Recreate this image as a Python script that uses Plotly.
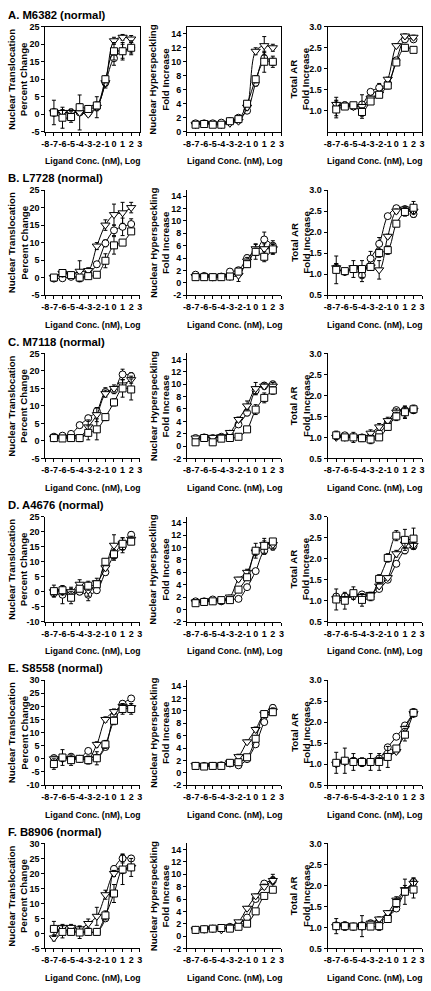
import plotly.graph_objects as go

# ---------------- data ----------------
X_LOG = [-7, -6, -5, -4, -3, -2, -1, 0, 1, 2]
ROW_TITLES = ["A. M6382 (normal)", "B. L7728 (normal)", "C. M7118 (normal)",
              "D. A4676 (normal)", "E. S8558 (normal)", "F. B8906 (normal)"]
Y_TITLES = ["Nuclear Translocation<br>Percent Change",
            "Nuclear Hyperspeckling<br>Fold Increase",
            "Total AR<br>Fold Increase"]
X_TITLE = "Ligand Conc. (nM), Log"
X_TICKS = [-8, -7, -6, -5, -4, -3, -2, -1, 0, 1, 2, 3]

# Row A
A_NT_circ = [0.5, 0.3, 0.5, 0.5, 0.5, 2.0, 9.0, 16.0, 18.0, 19.0]
A_NT_tri = [0.5, 0.5, 0.5, 0.5, 0.0, 2.0, 9.0, 21.0, 22.0, 21.5]
A_NT_sq = [0.5, -1.0, -0.8, 2.0, 1.5, 2.5, 10.0, 18.0, 18.0, 19.0]
A_NT_circ_e = [1.0, 1.0, 1.0, 5.0, 1.0, 1.0, 1.0, 2.0, 2.0, 1.5]
A_NT_tri_e = [0.5, 0.5, 0.5, 0.5, 0.5, 3.0, 1.5, 1.0, 0.8, 1.0]
A_NT_sq_e = [3.5, 3.0, 1.5, 1.0, 1.0, 1.0, 1.0, 2.5, 2.5, 2.0]

A_NH_circ = [1.2, 1.2, 1.2, 1.3, 1.5, 2.0, 3.0, 7.0, 10.5, 10.0]
A_NH_tri = [1.0, 1.2, 1.1, 1.0, 1.2, 1.5, 3.5, 11.5, 12.3, 12.0]
A_NH_sq = [1.0, 1.1, 1.0, 1.0, 1.5, 1.8, 4.0, 7.5, 10.0, 10.0]
A_NH_circ_e = [0.2, 0.2, 0.2, 0.2, 0.2, 0.3, 0.4, 0.5, 0.8, 0.5]
A_NH_tri_e = [0.2, 0.2, 0.2, 0.2, 0.2, 0.3, 0.4, 0.5, 1.3, 0.5]
A_NH_sq_e = [0.2, 0.2, 0.2, 0.2, 0.2, 0.3, 0.4, 0.5, 1.5, 0.8]

A_AR_circ = [1.10, 1.13, 1.10, 1.15, 1.45, 1.55, 1.65, 2.20, 2.70, 2.70]
A_AR_tri = [1.15, 1.12, 1.10, 1.10, 1.30, 1.40, 1.75, 2.55, 2.78, 2.75]
A_AR_sq = [1.03, 1.10, 1.13, 0.97, 1.22, 1.38, 1.60, 2.15, 2.50, 2.45]
A_AR_circ_e = [0.22, 0.08, 0.05, 0.05, 0.05, 0.10, 0.05, 0.05, 0.05, 0.05]
A_AR_tri_e = [0.10, 0.05, 0.05, 0.28, 0.05, 0.05, 0.05, 0.05, 0.05, 0.05]
A_AR_sq_e = [0.20, 0.05, 0.05, 0.10, 0.05, 0.05, 0.08, 0.05, 0.08, 0.05]

# Row B
B_NT_circ = [-0.3, -0.2, 0.2, -0.2, 1.0, 3.8, 9.8, 13.5, 14.5, 15.3]
B_NT_tri = [0.0, 1.2, 0.8, 1.8, 2.0, 9.0, 15.0, 18.0, 18.5, 20.0]
B_NT_sq = [0.0, 1.3, 0.7, 0.0, 0.4, 0.8, 4.8, 9.2, 10.0, 13.2]
B_NT_circ_e = [0.5, 0.5, 0.5, 0.5, 0.5, 0.8, 1.0, 1.5, 2.5, 1.5]
B_NT_tri_e = [0.5, 1.0, 0.8, 3.0, 0.8, 1.0, 1.5, 3.0, 3.0, 1.5]
B_NT_sq_e = [0.5, 1.0, 0.8, 0.5, 0.5, 0.5, 2.0, 2.5, 0.8, 0.8]

B_NH_circ = [1.3, 1.1, 0.9, 1.0, 1.8, 2.0, 4.0, 5.0, 7.0, 6.0]
B_NH_tri = [1.0, 1.0, 0.9, 1.0, 1.0, 1.2, 3.5, 5.5, 5.5, 5.5]
B_NH_sq = [0.9, 0.9, 0.9, 0.9, 1.0, 1.8, 3.0, 5.0, 4.2, 5.4]
B_NH_circ_e = [0.3, 0.3, 0.2, 0.3, 0.4, 0.5, 0.5, 1.2, 1.2, 0.8]
B_NH_tri_e = [0.3, 0.3, 0.2, 0.3, 0.4, 1.0, 0.6, 0.8, 0.8, 0.8]
B_NH_sq_e = [0.3, 0.3, 0.2, 0.3, 0.3, 0.5, 0.5, 0.6, 0.8, 0.8]

B_AR_circ = [1.15, 1.05, 1.12, 0.97, 1.37, 1.72, 2.38, 2.57, 2.55, 2.43]
B_AR_tri = [1.15, 1.05, 1.15, 1.12, 1.17, 1.10, 1.90, 2.50, 2.55, 2.50]
B_AR_sq = [1.10, 1.07, 1.12, 1.12, 1.17, 1.50, 1.57, 2.20, 2.48, 2.58]
B_AR_circ_e = [0.10, 0.05, 0.05, 0.15, 0.17, 0.15, 0.05, 0.05, 0.05, 0.08]
B_AR_tri_e = [0.10, 0.05, 0.05, 0.05, 0.05, 0.22, 0.05, 0.05, 0.05, 0.05]
B_AR_sq_e = [0.33, 0.05, 0.20, 0.20, 0.05, 0.10, 0.10, 0.05, 0.10, 0.15]

# Row C
C_NT_circ = [1.2, 1.5, 2.0, 4.5, 6.5, 8.5, 14.0, 14.5, 19.0, 18.5]
C_NT_tri = [0.8, 1.0, 1.0, 1.0, 4.0, 7.5, 13.5, 15.0, 16.0, 17.5]
C_NT_sq = [0.8, 0.7, 0.8, 0.8, 2.3, 3.3, 6.8, 11.0, 15.0, 14.7]
C_NT_circ_e = [0.5, 0.5, 0.5, 0.8, 0.8, 1.0, 1.2, 1.0, 1.5, 1.0]
C_NT_tri_e = [0.5, 0.5, 0.5, 0.5, 2.0, 2.0, 1.0, 1.0, 1.5, 1.0]
C_NT_sq_e = [0.5, 0.5, 0.5, 1.0, 2.0, 3.0, 1.0, 1.0, 2.5, 3.0]

C_NH_circ = [1.3, 1.4, 1.3, 1.5, 2.0, 3.5, 5.4, 9.0, 9.8, 10.0]
C_NH_tri = [1.3, 1.3, 1.4, 1.5, 2.2, 4.3, 6.5, 9.3, 9.7, 9.7]
C_NH_sq = [0.6, 1.3, 0.6, 1.2, 1.3, 1.5, 2.7, 5.9, 7.8, 9.0]
C_NH_circ_e = [0.2, 0.2, 0.2, 0.3, 0.3, 0.4, 0.5, 0.6, 0.5, 0.5]
C_NH_tri_e = [0.2, 0.2, 0.2, 0.3, 0.3, 0.4, 0.8, 1.0, 0.5, 0.6]
C_NH_sq_e = [0.3, 0.3, 0.4, 0.3, 0.3, 0.3, 0.3, 0.8, 0.8, 0.6]

C_AR_circ = [1.05, 1.05, 1.00, 1.00, 1.00, 1.10, 1.35, 1.65, 1.65, 1.65]
C_AR_tri = [1.00, 1.00, 1.00, 1.00, 1.10, 1.25, 1.40, 1.60, 1.60, 1.65]
C_AR_sq = [1.05, 1.00, 1.00, 0.98, 0.95, 1.00, 1.25, 1.50, 1.60, 1.67]
C_AR_circ_e = [0.05, 0.05, 0.05, 0.05, 0.05, 0.05, 0.05, 0.05, 0.08, 0.05]
C_AR_tri_e = [0.05, 0.05, 0.05, 0.05, 0.08, 0.08, 0.08, 0.08, 0.12, 0.05]
C_AR_sq_e = [0.10, 0.05, 0.12, 0.08, 0.10, 0.05, 0.08, 0.10, 0.15, 0.10]

# Row D
D_NT_circ = [-0.5, -1.0, -0.5, 0.0, -1.0, 0.5, 6.5, 12.0, 15.0, 19.0]
D_NT_tri = [0.0, 0.0, 0.0, 2.5, 0.5, 3.0, 8.0, 15.5, 16.0, 17.5]
D_NT_sq = [0.2, 0.5, -2.0, 1.0, 2.0, 2.5, 10.0, 12.5, 16.0, 16.7]
D_NT_circ_e = [1.0, 3.0, 2.0, 1.0, 2.0, 1.0, 1.0, 1.5, 2.0, 1.0]
D_NT_tri_e = [1.0, 1.0, 1.0, 1.5, 2.0, 1.5, 1.0, 3.5, 2.0, 1.0]
D_NT_sq_e = [2.0, 1.5, 2.0, 1.0, 1.5, 1.0, 1.0, 1.5, 2.0, 1.0]

D_NH_circ = [1.3, 1.3, 1.6, 1.3, 1.7, 1.7, 3.6, 6.2, 9.5, 10.2]
D_NH_tri = [1.2, 1.2, 1.4, 1.4, 2.0, 4.9, 6.0, 9.3, 10.5, 10.5]
D_NH_sq = [1.0, 1.2, 1.3, 1.5, 1.5, 3.2, 5.2, 9.5, 10.3, 11.0]
D_NH_circ_e = [0.2, 0.2, 0.2, 0.2, 0.2, 0.2, 0.3, 0.4, 0.6, 0.6]
D_NH_tri_e = [0.2, 0.2, 0.2, 0.2, 0.3, 0.3, 0.5, 0.6, 0.6, 0.6]
D_NH_sq_e = [0.2, 0.2, 0.2, 0.2, 0.2, 0.3, 0.5, 1.2, 1.2, 0.4]

D_AR_circ = [1.10, 1.10, 1.15, 1.15, 1.10, 1.28, 1.50, 1.88, 2.20, 2.30]
D_AR_tri = [1.05, 1.05, 1.10, 1.10, 1.15, 1.35, 1.55, 2.12, 2.35, 2.32]
D_AR_sq = [1.03, 1.00, 1.18, 1.02, 1.10, 1.52, 2.02, 2.55, 2.45, 2.48]
D_AR_circ_e = [0.05, 0.05, 0.05, 0.05, 0.05, 0.05, 0.05, 0.05, 0.08, 0.08]
D_AR_tri_e = [0.05, 0.05, 0.05, 0.05, 0.05, 0.05, 0.05, 0.08, 0.10, 0.08]
D_AR_sq_e = [0.25, 0.20, 0.15, 0.15, 0.10, 0.10, 0.10, 0.12, 0.25, 0.25]

# Row E
E_NT_circ = [0.3, 0.5, 0.8, 0.0, 3.0, 0.5, 4.5, 16.5, 21.0, 23.0]
E_NT_tri = [0.0, 0.0, 0.0, 0.0, 0.0, 5.5, 15.0, 18.0, 20.0, 19.5]
E_NT_sq = [-2.0, 0.5, -0.5, 0.0, -0.5, 0.2, 5.5, 14.5, 19.0, 19.0]
E_NT_circ_e = [1.0, 1.0, 1.0, 1.0, 1.0, 1.0, 1.0, 1.5, 1.0, 1.0]
E_NT_tri_e = [1.0, 1.0, 1.0, 1.0, 1.0, 1.0, 1.0, 1.0, 1.0, 1.5]
E_NT_sq_e = [2.0, 3.0, 2.0, 1.0, 1.5, 2.5, 1.5, 1.5, 2.0, 2.0]

E_NH_circ = [1.1, 1.1, 1.1, 1.2, 1.5, 1.2, 2.2, 4.6, 8.2, 10.5]
E_NH_tri = [1.2, 1.1, 1.2, 1.2, 1.6, 2.6, 5.0, 7.0, 9.5, 10.0]
E_NH_sq = [1.1, 1.0, 1.1, 1.1, 1.6, 1.7, 2.5, 5.5, 9.5, 9.8]
E_NH_circ_e = [0.2, 0.2, 0.2, 0.2, 0.2, 0.2, 0.3, 0.3, 0.4, 0.5]
E_NH_tri_e = [0.2, 0.2, 0.2, 0.2, 0.2, 0.4, 0.3, 0.4, 0.4, 0.5]
E_NH_sq_e = [0.2, 0.2, 0.2, 0.2, 0.2, 0.3, 0.4, 0.5, 0.4, 0.5]

E_AR_circ = [1.02, 1.08, 1.08, 1.02, 1.04, 1.13, 1.40, 1.65, 1.92, 2.22]
E_AR_tri = [1.00, 1.05, 1.05, 1.05, 1.05, 1.10, 1.20, 1.30, 1.85, 2.20]
E_AR_sq = [1.03, 1.08, 1.05, 1.05, 1.05, 1.05, 1.17, 1.37, 1.70, 2.22]
E_AR_circ_e = [0.05, 0.05, 0.05, 0.05, 0.05, 0.05, 0.05, 0.05, 0.05, 0.05]
E_AR_tri_e = [0.05, 0.05, 0.05, 0.05, 0.05, 0.05, 0.05, 0.05, 0.05, 0.05]
E_AR_sq_e = [0.25, 0.30, 0.20, 0.10, 0.20, 0.20, 0.25, 0.05, 0.15, 0.10]

# Row F
F_NT_circ = [1.5, 1.0, 1.0, 0.5, 0.5, 0.5, 5.0, 21.5, 25.0, 25.0]
F_NT_tri = [-1.5, 2.0, 2.0, 1.5, 3.3, 5.7, 12.9, 20.0, 21.0, 22.0]
F_NT_sq = [1.5, 0.5, 0.5, 0.3, 0.5, 0.5, 6.0, 13.3, 21.3, 22.0]
F_NT_circ_e = [1.0, 1.0, 1.0, 1.0, 1.0, 1.0, 1.0, 1.0, 1.5, 1.0]
F_NT_tri_e = [1.0, 1.0, 1.0, 1.0, 1.5, 3.0, 1.5, 1.0, 1.0, 1.0]
F_NT_sq_e = [2.5, 2.0, 1.0, 2.0, 1.0, 1.0, 1.5, 3.0, 5.0, 3.0]

F_NH_circ = [1.0, 1.1, 1.2, 1.3, 1.5, 2.0, 3.0, 6.0, 8.5, 9.0]
F_NH_tri = [1.0, 1.1, 1.2, 1.0, 1.5, 2.3, 4.5, 6.5, 8.0, 9.0]
F_NH_sq = [1.0, 1.1, 1.2, 1.3, 1.2, 1.5, 2.0, 4.0, 6.5, 7.5]
F_NH_circ_e = [0.1, 0.1, 0.1, 0.1, 0.2, 0.2, 0.3, 0.3, 0.4, 1.0]
F_NH_tri_e = [0.1, 0.1, 0.1, 0.1, 0.2, 0.2, 0.3, 0.3, 0.4, 0.6]
F_NH_sq_e = [0.1, 0.1, 0.1, 0.1, 0.2, 0.2, 0.2, 0.3, 0.3, 0.4]

F_AR_circ = [1.05, 1.05, 1.02, 1.05, 1.10, 1.15, 1.25, 1.45, 1.85, 2.08]
F_AR_tri = [1.02, 1.05, 1.03, 1.02, 1.10, 1.20, 1.35, 1.65, 1.90, 2.05]
F_AR_sq = [1.03, 1.03, 1.02, 1.03, 1.02, 1.03, 1.20, 1.58, 1.85, 1.90]
F_AR_circ_e = [0.05, 0.05, 0.05, 0.05, 0.05, 0.05, 0.05, 0.05, 0.08, 0.10]
F_AR_tri_e = [0.05, 0.05, 0.05, 0.05, 0.05, 0.05, 0.05, 0.08, 0.10, 0.12]
F_AR_sq_e = [0.18, 0.10, 0.08, 0.25, 0.05, 0.10, 0.05, 0.10, 0.30, 0.20]

NT_RANGES = [[-5, 25], [-5, 25], [-5, 25], [-10, 25], [-10, 30], [-5, 30]]
NH_RANGES = [[0, 15], [-2, 15], [-2, 15], [-2, 15], [-2, 15], [-2, 15]]
AR_RANGE = [0.5, 3.0]

# ---------------- assemble ----------------
g = globals()
ROWS = ["A", "B", "C", "D", "E", "F"]
METRICS = ["NT", "NH", "AR"]
SYMBOLS = [("circ", "circle", 7), ("tri", "triangle-down", 8), ("sq", "square", 7)]

W, H = 431, 991
COLS_PX = [(42, 138), (186, 282), (329, 425)]
ROW_TOP_PX = [22, 187, 352, 517, 682, 847]
ROW_H_PX = 106

FONT = "Liberation Sans, Arial, sans-serif"

fig = go.Figure()
annotations = []
layout = {}

for r, row in enumerate(ROWS):
    top = ROW_TOP_PX[r]
    bot = top + ROW_H_PX
    ydom = [1 - bot / H, 1 - top / H]
    boxed = (r == 0)
    annotations.append(dict(text=ROW_TITLES[r], x=2 / W, y=1 - (top - 12) / H,
                            xref="paper", yref="paper", xanchor="left", yanchor="middle",
                            showarrow=False,
                            font=dict(family=FONT, size=11.3, color="black", weight="bold")))
    for c, met in enumerate(METRICS):
        n = r * 3 + c + 1
        xa = "x" if n == 1 else f"x{n}"
        ya = "y" if n == 1 else f"y{n}"
        xdom = [COLS_PX[c][0] / W, COLS_PX[c][1] / W]
        for key, sym, size in SYMBOLS:
            yv = g[f"{row}_{met}_{key}"]
            ye = g[f"{row}_{met}_{key}_e"]
            fig.add_trace(go.Scatter(
                x=X_LOG, y=yv, xaxis=xa, yaxis=ya, mode="lines+markers",
                line=dict(color="black", width=1, shape="spline", smoothing=1.0),
                marker=dict(symbol=sym, size=size, color="white",
                            line=dict(color="black", width=1)),
                error_y=dict(type="data", array=ye, color="black", thickness=1, width=2),
                showlegend=False, hoverinfo="skip"))
        tickfont = dict(family=FONT, size=9, color="black", weight="bold")
        layout[f"xaxis{'' if n == 1 else n}"] = dict(
            domain=xdom, anchor=ya, range=[-8, 3], tickmode="array", tickvals=X_TICKS,
            ticktext=[str(t) for t in X_TICKS], tickangle=0,
            showline=True, mirror=boxed, linecolor="black", linewidth=1,
            ticks="outside", ticklen=3, tickcolor="black", showgrid=False, zeroline=False,
            tickfont=tickfont)
        if met == "NT":
            yr = NT_RANGES[r]
            tv = list(range(yr[0], yr[1] + 1, 5))
            tt = [str(v) for v in tv]
        elif met == "NH":
            yr = NH_RANGES[r]
            tv = list(range(yr[0], 15, 2))
            tt = [str(v) for v in tv]
        else:
            yr = AR_RANGE
            tv = [0.5, 1.0, 1.5, 2.0, 2.5, 3.0] if r > 0 else [1.0, 1.5, 2.0, 2.5, 3.0]
            tt = [f"{v:.1f}" for v in tv]
        layout[f"yaxis{'' if n == 1 else n}"] = dict(
            domain=ydom, anchor=xa, range=yr, tickmode="array", tickvals=tv, ticktext=tt,
            showline=True, mirror=boxed, linecolor="black", linewidth=1,
            ticks="outside", ticklen=3, tickcolor="black", showgrid=False, zeroline=False,
            tickfont=tickfont)
        annotations.append(dict(text=Y_TITLES[c], x=(COLS_PX[c][0] - 28) / W,
                                y=1 - (top + bot) / 2 / H, xref="paper", yref="paper",
                                xanchor="center", yanchor="middle", textangle=-90,
                                showarrow=False,
                                font=dict(family=FONT, size=9.7, color="black", weight="bold")))
        annotations.append(dict(text=X_TITLE, x=(COLS_PX[c][0] + COLS_PX[c][1]) / 2 / W,
                                y=1 - (bot + 30) / H, xref="paper", yref="paper",
                                xanchor="center", yanchor="middle", showarrow=False,
                                font=dict(family=FONT, size=8.6, color="black", weight="bold")))

fig.update_layout(width=W, height=H, margin=dict(l=0, r=0, t=0, b=0),
                  paper_bgcolor="white", plot_bgcolor="white",
                  annotations=annotations, **layout)
fig.write_html("out.html", config={"displayModeBar": False},
               post_script="document.body.style.margin='0px';")
